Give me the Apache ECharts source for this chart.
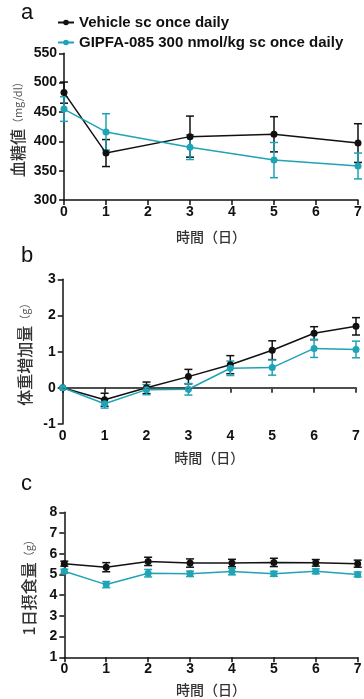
<!DOCTYPE html>
<html><head><meta charset="utf-8">
<script src="https://cdn.jsdelivr.net/npm/echarts@6/dist/echarts.min.js"></script>
<style>html,body{margin:0;padding:0;background:#fff}#c{width:364px;height:699px}</style>
</head><body><div id="c"></div>
<script>
// ---- data ----
const seriesNames = ['Vehicle sc once daily', 'GIPFA-085 300 nmol/kg sc once daily'];
const daysA = [0, 1, 3, 5, 7];
const glucoseVehicle = [483, 380, 408, 412, 397];
const glucoseVehicleSem = [18, 23, 35, 30, 33];
const glucoseGipfa = [455, 416, 390, 368, 358];
const glucoseGipfaSem = [21, 31, 21, 30, 22];

const daysB = [0, 1, 2, 3, 4, 5, 6, 7];
const weightVehicle = [0, -0.33, 0.0, 0.31, 0.64, 1.04, 1.51, 1.70];
const weightVehicleSem = [0, 0.18, 0.16, 0.2, 0.25, 0.26, 0.18, 0.24];
const weightGipfa = [0, -0.44, -0.05, -0.04, 0.54, 0.56, 1.09, 1.06];
const weightGipfaSem = [0, 0.12, 0.14, 0.16, 0.2, 0.21, 0.25, 0.23];

const daysC = [0, 1, 2, 3, 4, 5, 6, 7];
const foodVehicle = [5.52, 5.35, 5.63, 5.55, 5.55, 5.58, 5.56, 5.52];
const foodVehicleSem = [0.12, 0.22, 0.2, 0.2, 0.18, 0.2, 0.16, 0.17];
const foodGipfa = [5.15, 4.51, 5.06, 5.03, 5.14, 5.03, 5.15, 5.0];
const foodGipfaSem = [0.1, 0.15, 0.18, 0.13, 0.16, 0.12, 0.12, 0.12];

const yLabels = ['血糖値', '体重増加量', '1日摂食量'];
const yUnits = ['（mg/dl）', '（g）', '（g）'];
const xLabel = '時間（日）';
const panelLetters = ['a', 'b', 'c'];

// ---- styles ----
const BLACK = '#111111';
const CYAN = '#1fa3b6';
const FONT = 'Liberation Sans, Arial, sans-serif';
const JP = 'Noto Sans CJK JP, sans-serif';

const chart = echarts.init(document.getElementById('c'));

const grids = [
  {left: 64, top: 53.3, width: 294, height: 146.7, containLabel: false, outerBoundsMode: 'none'},
  {left: 62.7, top: 279.3, width: 293.3, height: 144.7, containLabel: false, outerBoundsMode: 'none'},
  {left: 64.3, top: 512.3, width: 293.4, height: 145, containLabel: false, outerBoundsMode: 'none'}
];
const yRanges = [[300, 550, 50], [-1, 3, 1], [1, 8, 1]];
const yNameGaps = [38, 30, 27];
const xNameGaps = [30, 27, 25];

function axisLine() { return {show: true, lineStyle: {color: BLACK, width: 1.5}}; }
function axisTick() { return {show: true, length: 5, lineStyle: {color: BLACK, width: 1.5}}; }

const xAxes = grids.map((g, i) => ({
  type: 'value', gridIndex: i, min: 0, max: 7, interval: 1,
  axisLine: axisLine(), axisTick: axisTick(), splitLine: {show: false},
  axisLabel: {color: BLACK, fontFamily: FONT, fontWeight: 'bold', fontSize: 14, margin: 5},
  name: xLabel, nameLocation: 'middle', nameGap: xNameGaps[i], nameMoveOverlap: false,
  nameTextStyle: {color: '#333', fontFamily: JP, fontSize: 14, fontWeight: 500}
}));
const yAxes = grids.map((g, i) => ({
  type: 'value', gridIndex: i, min: yRanges[i][0], max: yRanges[i][1], interval: yRanges[i][2],
  axisLine: axisLine(), axisTick: axisTick(), splitLine: {show: false},
  axisLabel: {color: BLACK, fontFamily: FONT, fontWeight: 'bold', fontSize: 14, margin: 7},
  name: '{a|' + yLabels[i] + '}{b|' + yUnits[i] + '}', nameLocation: 'middle', nameRotate: 90,
  nameGap: yNameGaps[i], nameMoveOverlap: false,
  nameTextStyle: {
    rich: {
      a: {color: '#333', fontFamily: JP, fontSize: 16, fontWeight: 500},
      b: {color: '#555', fontFamily: JP, fontSize: 11}
    }
  }
}));

function lineSeries(name, idx, days, vals, color) {
  return {
    name: name, type: 'line', xAxisIndex: idx, yAxisIndex: idx,
    data: days.map((d, i) => [d, vals[i]]),
    symbol: 'circle', symbolSize: 7,
    itemStyle: {color: color}, lineStyle: {color: color, width: 1.5},
    z: 3
  };
}
function errSeries(idx, days, vals, sem, color) {
  return {
    type: 'custom', xAxisIndex: idx, yAxisIndex: idx,
    data: days.map((d, i) => [d, vals[i] - sem[i], vals[i] + sem[i]]),
    encode: {x: 0, y: [1, 2]},
    z: 2,
    renderItem: function (params, api) {
      const x = api.value(0), lo = api.value(1), hi = api.value(2);
      const pLo = api.coord([x, lo]), pHi = api.coord([x, hi]);
      const w = 4;
      const st = {stroke: color, lineWidth: 1.5};
      return {type: 'group', children: [
        {type: 'line', shape: {x1: pLo[0], y1: pLo[1], x2: pHi[0], y2: pHi[1]}, style: st},
        {type: 'line', shape: {x1: pLo[0] - w, y1: pLo[1], x2: pLo[0] + w, y2: pLo[1]}, style: st},
        {type: 'line', shape: {x1: pHi[0] - w, y1: pHi[1], x2: pHi[0] + w, y2: pHi[1]}, style: st}
      ]};
    }
  };
}

const series = [
  errSeries(0, daysA, glucoseVehicle, glucoseVehicleSem, BLACK),
  errSeries(0, daysA, glucoseGipfa, glucoseGipfaSem, CYAN),
  lineSeries(seriesNames[0], 0, daysA, glucoseVehicle, BLACK),
  lineSeries(seriesNames[1], 0, daysA, glucoseGipfa, CYAN),

  errSeries(1, daysB, weightVehicle, weightVehicleSem, BLACK),
  errSeries(1, daysB, weightGipfa, weightGipfaSem, CYAN),
  Object.assign(lineSeries(seriesNames[0], 1, daysB, weightVehicle, BLACK), {
    markLine: {silent: true, symbol: 'none', label: {show: false},
      lineStyle: {color: '#555', type: [2, 2], width: 1}, data: [{yAxis: 0}]}
  }),
  lineSeries(seriesNames[1], 1, daysB, weightGipfa, CYAN),

  errSeries(2, daysC, foodVehicle, foodVehicleSem, BLACK),
  errSeries(2, daysC, foodGipfa, foodGipfaSem, CYAN),
  lineSeries(seriesNames[0], 2, daysC, foodVehicle, BLACK),
  lineSeries(seriesNames[1], 2, daysC, foodGipfa, CYAN)
];

chart.setOption({
  animation: false,
  backgroundColor: '#fff',
  grid: grids,
  xAxis: xAxes,
  yAxis: yAxes,
  legend: {
    data: seriesNames, orient: 'vertical', left: 52, top: 10, itemGap: 5,
    itemWidth: 16, itemHeight: 7,
    textStyle: {color: BLACK, fontFamily: FONT, fontWeight: 'bold', fontSize: 15}
  },
  graphic: [
    {type: 'text', left: 21, top: 2, style: {text: panelLetters[0], fontFamily: FONT, fontSize: 22, fill: '#111'}},
    {type: 'text', left: 21, top: 245, style: {text: panelLetters[1], fontFamily: FONT, fontSize: 22, fill: '#111'}},
    {type: 'text', left: 21, top: 473, style: {text: panelLetters[2], fontFamily: FONT, fontSize: 22, fill: '#111'}}
  ],
  series: series
});
</script></body></html>
